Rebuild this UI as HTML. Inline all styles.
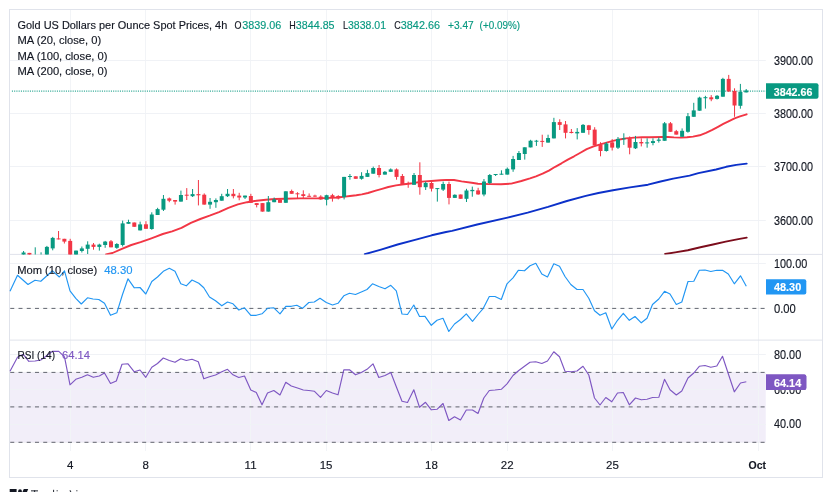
<!DOCTYPE html>
<html><head><meta charset="utf-8"><title>Gold Spot 4h</title>
<style>html,body{margin:0;padding:0;background:#fff;overflow:hidden}body{width:832px;height:492px;position:relative;font-family:"Liberation Sans",sans-serif}</style></head>
<body>
<svg width="832" height="492" viewBox="0 0 832 492" style="position:absolute;left:0;top:0;will-change:transform">
<rect width="832" height="492" fill="#fff"/>
<defs><clipPath id="mp"><rect x="10" y="10" width="756" height="244.4"/></clipPath><clipPath id="all"><rect x="10" y="10" width="756" height="440"/></clipPath></defs>
<rect x="10" y="372.5" width="755.8" height="69.9" fill="#7e57c2" fill-opacity="0.1"/>
<rect x="70" y="10" width="1" height="441" fill="#f2f4f7"/>
<rect x="145" y="10" width="1" height="441" fill="#f2f4f7"/>
<rect x="250" y="10" width="1" height="441" fill="#f2f4f7"/>
<rect x="326" y="10" width="1" height="441" fill="#f2f4f7"/>
<rect x="431" y="10" width="1" height="441" fill="#f2f4f7"/>
<rect x="507" y="10" width="1" height="441" fill="#f2f4f7"/>
<rect x="612" y="10" width="1" height="441" fill="#f2f4f7"/>
<rect x="758" y="10" width="1" height="441" fill="#f2f4f7"/>
<rect x="10" y="60" width="755.8" height="1" fill="#f0f2f6"/>
<rect x="10" y="113" width="755.8" height="1" fill="#f0f2f6"/>
<rect x="10" y="166" width="755.8" height="1" fill="#f0f2f6"/>
<rect x="10" y="220" width="755.8" height="1" fill="#f0f2f6"/>
<rect x="10" y="263" width="755.8" height="1" fill="#f0f2f6"/>
<rect x="10" y="354" width="755.8" height="1" fill="#f0f2f6"/>
<rect x="10" y="389" width="755.8" height="1" fill="#f0f2f6"/>
<rect x="10" y="424" width="755.8" height="1" fill="#f0f2f6"/>
<rect x="10" y="253.9" width="812" height="1" fill="#e0e3eb"/>
<rect x="10" y="339.6" width="812" height="1" fill="#e0e3eb"/>
<rect x="9.5" y="9.5" width="813" height="468" fill="none" stroke="#e0e3eb" stroke-width="1"/>
<line x1="10.25" x2="765" y1="308.4" y2="308.4" stroke="#787b86" stroke-width="1" stroke-opacity="0.07"/>
<line x1="10.25" x2="765" y1="308.4" y2="308.4" stroke="#62656f" stroke-width="1" stroke-dasharray="4 4.2456"/>
<line x1="10.25" x2="765" y1="372.4" y2="372.4" stroke="#787b86" stroke-width="1" stroke-opacity="0.07"/>
<line x1="10.25" x2="765" y1="372.4" y2="372.4" stroke="#62656f" stroke-width="1" stroke-dasharray="4 4.2456"/>
<line x1="10.25" x2="765" y1="406.9" y2="406.9" stroke="#787b86" stroke-width="1" stroke-opacity="0.07"/>
<line x1="10.25" x2="765" y1="406.9" y2="406.9" stroke="#62656f" stroke-width="1" stroke-dasharray="4 4.2456"/>
<line x1="10.25" x2="765" y1="442.3" y2="442.3" stroke="#787b86" stroke-width="1" stroke-opacity="0.07"/>
<line x1="10.25" x2="765" y1="442.3" y2="442.3" stroke="#62656f" stroke-width="1" stroke-dasharray="4 4.2456"/>
<line x1="11.9" x2="765.8" y1="91.1" y2="91.1" stroke="#089981" stroke-width="1.2" stroke-dasharray="1.05 1.2" stroke-opacity="0.85"/>
<g clip-path="url(#mp)">
<polyline points="106.0,254.4 112.5,253.0 121.9,248.8 131.3,245.0 140.6,242.2 150.0,238.8 156.0,236.6 162.8,234.0 172.1,231.3 181.5,227.9 190.9,222.8 200.3,219.0 209.6,215.7 219.0,212.1 228.4,207.8 237.8,204.4 247.1,202.2 256.5,200.7 265.9,199.8 275.3,199.0 284.6,198.8 300.0,198.4 318.8,198.4 337.5,197.5 345.0,196.6 350.0,196.0 356.3,195.3 361.8,194.4 368.0,193.0 375.7,190.6 382.0,188.8 388.3,187.0 396.0,185.4 404.0,184.2 412.5,183.2 421.9,181.6 431.3,181.0 440.6,180.2 446.4,179.9 454.0,180.0 461.6,181.4 471.7,182.8 478.0,183.7 489.8,184.1 501.0,184.3 511.3,183.6 521.4,181.0 530.0,178.4 536.0,176.3 542.6,173.7 548.9,170.6 555.2,166.8 561.5,163.3 567.8,159.6 574.1,156.3 580.4,152.7 586.7,149.1 593.0,146.6 599.4,144.7 605.7,142.8 612.0,141.2 618.3,139.7 625.8,138.4 634.0,137.6 642.0,137.3 649.5,137.3 662.6,137.0 668.0,137.0 674.0,137.4 680.7,137.6 687.0,137.3 693.0,136.6 699.7,135.3 706.0,132.8 712.3,129.8 718.0,126.8 723.3,123.9 728.0,121.6 734.6,118.3 740.0,116.4 746.6,114.3" fill="none" stroke="#f23645" stroke-width="1.9" stroke-linejoin="round" stroke-linecap="round"/>
<polyline points="364.8,254.2 381.0,249.6 397.6,244.5 415.0,239.8 431.7,235.3 446.0,232.0 452.0,230.9 477.2,224.5 507.5,217.6 527.7,212.6 548.0,206.9 566.9,201.0 585.8,195.9 598.4,193.0 613.0,190.3 630.0,187.4 648.0,184.7 660.6,181.5 673.2,178.6 689.6,175.6 698.4,173.1 716.1,169.5 726.2,166.8 736.3,164.9 746.7,163.6" fill="none" stroke="#0c31c9" stroke-width="1.9" stroke-linejoin="round" stroke-linecap="round"/>
<polyline points="665.1,254.0 675.2,252.4 687.8,250.2 700.4,247.3 713.0,244.5 725.7,241.6 738.3,239.1 746.7,237.6" fill="none" stroke="#7c0d1c" stroke-width="1.9" stroke-linejoin="round" stroke-linecap="round"/>
<rect x="745.70" y="89.0" width="1" height="3.4" fill="#089981"/>
<rect x="744.20" y="90.5" width="4" height="1.9" fill="#089981"/>
<rect x="739.87" y="83.9" width="1" height="24.8" fill="#089981"/>
<rect x="738.37" y="92.0" width="4" height="13.8" fill="#089981"/>
<rect x="734.04" y="88.3" width="1" height="28.5" fill="#f23645"/>
<rect x="732.54" y="90.9" width="4" height="14.6" fill="#f23645"/>
<rect x="728.22" y="74.9" width="1" height="17.1" fill="#f23645"/>
<rect x="726.72" y="78.9" width="4" height="12.5" fill="#f23645"/>
<rect x="722.39" y="77.8" width="1" height="18.9" fill="#089981"/>
<rect x="720.89" y="78.9" width="4" height="17.8" fill="#089981"/>
<rect x="716.56" y="95.0" width="1" height="4.5" fill="#089981"/>
<rect x="715.06" y="95.8" width="4" height="3.1" fill="#089981"/>
<rect x="710.73" y="95.1" width="1" height="6.1" fill="#f23645"/>
<rect x="709.23" y="97.3" width="4" height="2.0" fill="#f23645"/>
<rect x="704.91" y="95.8" width="1" height="12.8" fill="#089981"/>
<rect x="703.41" y="97.2" width="4" height="1.0" fill="#089981"/>
<rect x="699.08" y="96.7" width="1" height="14.0" fill="#089981"/>
<rect x="697.58" y="97.6" width="4" height="13.1" fill="#089981"/>
<rect x="693.25" y="102.8" width="1" height="14.0" fill="#089981"/>
<rect x="691.75" y="110.4" width="4" height="6.4" fill="#089981"/>
<rect x="687.42" y="113.0" width="1" height="19.7" fill="#089981"/>
<rect x="685.92" y="116.2" width="4" height="15.6" fill="#089981"/>
<rect x="681.60" y="128.4" width="1" height="8.4" fill="#089981"/>
<rect x="680.10" y="130.8" width="4" height="6.0" fill="#089981"/>
<rect x="675.77" y="129.9" width="1" height="4.7" fill="#f23645"/>
<rect x="674.27" y="131.2" width="4" height="3.4" fill="#f23645"/>
<rect x="669.94" y="122.0" width="1" height="9.8" fill="#f23645"/>
<rect x="668.44" y="123.3" width="4" height="8.5" fill="#f23645"/>
<rect x="664.11" y="122.0" width="1" height="18.8" fill="#089981"/>
<rect x="662.61" y="123.3" width="4" height="17.5" fill="#089981"/>
<rect x="658.29" y="137.4" width="1" height="5.2" fill="#089981"/>
<rect x="656.79" y="139.6" width="4" height="1.2" fill="#089981"/>
<rect x="652.46" y="138.3" width="1" height="7.0" fill="#089981"/>
<rect x="650.96" y="141.1" width="4" height="1.9" fill="#089981"/>
<rect x="646.63" y="138.3" width="1" height="9.4" fill="#089981"/>
<rect x="645.13" y="142.4" width="4" height="1.0" fill="#089981"/>
<rect x="640.80" y="138.3" width="1" height="8.1" fill="#f23645"/>
<rect x="639.30" y="142.0" width="4" height="1.4" fill="#f23645"/>
<rect x="634.98" y="135.9" width="1" height="13.1" fill="#089981"/>
<rect x="633.48" y="142.0" width="4" height="6.3" fill="#089981"/>
<rect x="629.15" y="136.4" width="1" height="17.9" fill="#f23645"/>
<rect x="627.65" y="138.3" width="4" height="9.4" fill="#f23645"/>
<rect x="623.32" y="133.3" width="1" height="11.6" fill="#089981"/>
<rect x="621.82" y="138.3" width="4" height="1.0" fill="#089981"/>
<rect x="617.49" y="137.0" width="1" height="12.0" fill="#089981"/>
<rect x="615.99" y="138.9" width="4" height="8.8" fill="#089981"/>
<rect x="611.67" y="139.1" width="1" height="11.4" fill="#f23645"/>
<rect x="610.17" y="142.4" width="4" height="5.2" fill="#f23645"/>
<rect x="605.84" y="142.2" width="1" height="9.4" fill="#089981"/>
<rect x="604.34" y="143.5" width="4" height="7.5" fill="#089981"/>
<rect x="600.01" y="142.2" width="1" height="14.1" fill="#f23645"/>
<rect x="598.51" y="145.0" width="4" height="6.0" fill="#f23645"/>
<rect x="594.18" y="127.2" width="1" height="18.2" fill="#f23645"/>
<rect x="592.68" y="129.6" width="4" height="15.8" fill="#f23645"/>
<rect x="588.35" y="124.9" width="1" height="9.8" fill="#f23645"/>
<rect x="586.85" y="125.3" width="4" height="4.7" fill="#f23645"/>
<rect x="582.53" y="124.0" width="1" height="8.8" fill="#089981"/>
<rect x="581.03" y="124.9" width="4" height="7.9" fill="#089981"/>
<rect x="576.70" y="128.1" width="1" height="11.3" fill="#089981"/>
<rect x="575.20" y="131.9" width="4" height="1.5" fill="#089981"/>
<rect x="570.87" y="129.0" width="1" height="4.4" fill="#f23645"/>
<rect x="569.37" y="131.9" width="4" height="1.1" fill="#f23645"/>
<rect x="565.04" y="121.0" width="1" height="17.4" fill="#f23645"/>
<rect x="563.54" y="124.4" width="4" height="8.4" fill="#f23645"/>
<rect x="559.22" y="119.3" width="1" height="10.7" fill="#f23645"/>
<rect x="557.72" y="122.1" width="4" height="2.8" fill="#f23645"/>
<rect x="553.39" y="117.8" width="1" height="20.6" fill="#089981"/>
<rect x="551.89" y="122.1" width="4" height="16.3" fill="#089981"/>
<rect x="547.56" y="134.7" width="1" height="7.9" fill="#089981"/>
<rect x="546.06" y="138.0" width="4" height="4.6" fill="#089981"/>
<rect x="541.73" y="134.7" width="1" height="12.2" fill="#f23645"/>
<rect x="540.23" y="140.9" width="4" height="1.0" fill="#f23645"/>
<rect x="535.91" y="139.9" width="1" height="6.0" fill="#089981"/>
<rect x="534.41" y="140.7" width="4" height="1.0" fill="#089981"/>
<rect x="530.08" y="139.8" width="1" height="7.6" fill="#089981"/>
<rect x="528.58" y="140.7" width="4" height="6.7" fill="#089981"/>
<rect x="524.25" y="147.3" width="1" height="12.3" fill="#089981"/>
<rect x="522.75" y="147.3" width="4" height="6.7" fill="#089981"/>
<rect x="518.42" y="151.0" width="1" height="9.0" fill="#089981"/>
<rect x="516.92" y="153.0" width="4" height="7.0" fill="#089981"/>
<rect x="512.60" y="155.9" width="1" height="15.9" fill="#089981"/>
<rect x="511.10" y="159.0" width="4" height="10.4" fill="#089981"/>
<rect x="506.77" y="167.5" width="1" height="7.1" fill="#089981"/>
<rect x="505.27" y="168.8" width="4" height="5.8" fill="#089981"/>
<rect x="500.94" y="170.3" width="1" height="4.3" fill="#089981"/>
<rect x="499.44" y="173.7" width="4" height="1.0" fill="#089981"/>
<rect x="495.11" y="174.0" width="1" height="2.0" fill="#089981"/>
<rect x="493.61" y="174.0" width="4" height="1.0" fill="#089981"/>
<rect x="489.29" y="174.0" width="1" height="10.0" fill="#089981"/>
<rect x="487.79" y="175.0" width="4" height="8.0" fill="#089981"/>
<rect x="483.46" y="179.0" width="1" height="17.3" fill="#089981"/>
<rect x="481.96" y="181.5" width="4" height="13.0" fill="#089981"/>
<rect x="477.63" y="187.8" width="1" height="7.0" fill="#f23645"/>
<rect x="476.13" y="190.4" width="4" height="4.0" fill="#f23645"/>
<rect x="471.80" y="186.6" width="1" height="10.1" fill="#089981"/>
<rect x="470.30" y="189.9" width="4" height="1.3" fill="#089981"/>
<rect x="465.98" y="188.8" width="1" height="13.2" fill="#089981"/>
<rect x="464.48" y="190.5" width="4" height="8.3" fill="#089981"/>
<rect x="460.15" y="194.5" width="1" height="4.3" fill="#f23645"/>
<rect x="458.65" y="194.5" width="4" height="4.3" fill="#f23645"/>
<rect x="454.32" y="194.3" width="1" height="3.6" fill="#089981"/>
<rect x="452.82" y="194.8" width="4" height="3.1" fill="#089981"/>
<rect x="448.49" y="181.6" width="1" height="22.8" fill="#f23645"/>
<rect x="446.99" y="184.0" width="4" height="13.9" fill="#f23645"/>
<rect x="442.66" y="181.6" width="1" height="9.4" fill="#089981"/>
<rect x="441.16" y="184.0" width="4" height="5.6" fill="#089981"/>
<rect x="436.84" y="188.1" width="1" height="13.5" fill="#089981"/>
<rect x="435.34" y="188.1" width="4" height="1.0" fill="#089981"/>
<rect x="431.01" y="181.6" width="1" height="9.9" fill="#f23645"/>
<rect x="429.51" y="183.0" width="4" height="5.7" fill="#f23645"/>
<rect x="425.18" y="181.6" width="1" height="8.4" fill="#089981"/>
<rect x="423.68" y="183.0" width="4" height="4.2" fill="#089981"/>
<rect x="419.35" y="162.3" width="1" height="32.4" fill="#f23645"/>
<rect x="417.85" y="175.0" width="4" height="12.2" fill="#f23645"/>
<rect x="413.53" y="173.0" width="1" height="11.8" fill="#089981"/>
<rect x="412.03" y="175.0" width="4" height="9.8" fill="#089981"/>
<rect x="407.70" y="181.6" width="1" height="6.2" fill="#f23645"/>
<rect x="406.20" y="183.0" width="4" height="1.0" fill="#f23645"/>
<rect x="401.87" y="174.0" width="1" height="10.4" fill="#f23645"/>
<rect x="400.37" y="176.0" width="4" height="8.4" fill="#f23645"/>
<rect x="396.04" y="168.4" width="1" height="11.3" fill="#f23645"/>
<rect x="394.54" y="169.4" width="4" height="7.5" fill="#f23645"/>
<rect x="390.22" y="168.4" width="1" height="3.4" fill="#089981"/>
<rect x="388.72" y="169.4" width="4" height="2.4" fill="#089981"/>
<rect x="384.39" y="171.0" width="1" height="3.6" fill="#089981"/>
<rect x="382.89" y="171.8" width="4" height="2.8" fill="#089981"/>
<rect x="378.56" y="165.0" width="1" height="12.4" fill="#f23645"/>
<rect x="377.06" y="168.0" width="4" height="7.0" fill="#f23645"/>
<rect x="372.73" y="166.6" width="1" height="7.1" fill="#089981"/>
<rect x="371.23" y="168.0" width="4" height="5.7" fill="#089981"/>
<rect x="366.91" y="169.8" width="1" height="7.1" fill="#089981"/>
<rect x="365.41" y="173.1" width="4" height="3.8" fill="#089981"/>
<rect x="361.08" y="172.2" width="1" height="7.5" fill="#089981"/>
<rect x="359.58" y="175.9" width="4" height="2.9" fill="#089981"/>
<rect x="355.25" y="176.3" width="1" height="2.5" fill="#f23645"/>
<rect x="353.75" y="176.3" width="4" height="2.5" fill="#f23645"/>
<rect x="349.42" y="174.0" width="1" height="5.7" fill="#089981"/>
<rect x="347.92" y="176.0" width="4" height="1.0" fill="#089981"/>
<rect x="343.60" y="176.9" width="1" height="22.5" fill="#089981"/>
<rect x="342.10" y="176.9" width="4" height="20.2" fill="#089981"/>
<rect x="337.77" y="195.2" width="1" height="4.2" fill="#f23645"/>
<rect x="336.27" y="196.0" width="4" height="2.4" fill="#f23645"/>
<rect x="331.94" y="193.8" width="1" height="7.8" fill="#f23645"/>
<rect x="330.44" y="195.2" width="4" height="2.7" fill="#f23645"/>
<rect x="326.11" y="194.7" width="1" height="10.7" fill="#089981"/>
<rect x="324.61" y="195.2" width="4" height="4.6" fill="#089981"/>
<rect x="320.29" y="195.2" width="1" height="4.6" fill="#f23645"/>
<rect x="318.79" y="196.6" width="4" height="2.8" fill="#f23645"/>
<rect x="314.46" y="194.7" width="1" height="2.3" fill="#f23645"/>
<rect x="312.96" y="195.6" width="4" height="1.0" fill="#f23645"/>
<rect x="308.63" y="193.4" width="1" height="3.2" fill="#f23645"/>
<rect x="307.13" y="195.8" width="4" height="1.0" fill="#f23645"/>
<rect x="302.80" y="190.3" width="1" height="8.3" fill="#f23645"/>
<rect x="301.30" y="194.2" width="4" height="1.8" fill="#f23645"/>
<rect x="296.97" y="192.2" width="1" height="6.4" fill="#f23645"/>
<rect x="295.47" y="193.3" width="4" height="1.0" fill="#f23645"/>
<rect x="291.15" y="189.6" width="1" height="4.2" fill="#f23645"/>
<rect x="289.65" y="191.0" width="4" height="2.8" fill="#f23645"/>
<rect x="285.32" y="191.3" width="1" height="11.5" fill="#089981"/>
<rect x="283.82" y="191.3" width="4" height="11.5" fill="#089981"/>
<rect x="279.49" y="198.4" width="1" height="4.4" fill="#f23645"/>
<rect x="277.99" y="199.8" width="4" height="3.0" fill="#f23645"/>
<rect x="273.66" y="197.5" width="1" height="4.7" fill="#089981"/>
<rect x="272.16" y="199.4" width="4" height="2.8" fill="#089981"/>
<rect x="267.84" y="196.0" width="1" height="15.6" fill="#089981"/>
<rect x="266.34" y="202.2" width="4" height="9.4" fill="#089981"/>
<rect x="262.01" y="203.1" width="1" height="8.5" fill="#f23645"/>
<rect x="260.51" y="203.1" width="4" height="8.5" fill="#f23645"/>
<rect x="256.18" y="203.1" width="1" height="4.3" fill="#f23645"/>
<rect x="254.68" y="203.1" width="4" height="1.9" fill="#f23645"/>
<rect x="250.35" y="193.8" width="1" height="9.0" fill="#f23645"/>
<rect x="248.85" y="196.0" width="4" height="6.8" fill="#f23645"/>
<rect x="244.53" y="195.6" width="1" height="3.4" fill="#089981"/>
<rect x="243.03" y="195.6" width="4" height="1.9" fill="#089981"/>
<rect x="238.70" y="192.8" width="1" height="7.5" fill="#f23645"/>
<rect x="237.20" y="195.6" width="4" height="1.9" fill="#f23645"/>
<rect x="232.87" y="189.0" width="1" height="9.4" fill="#f23645"/>
<rect x="231.37" y="193.8" width="4" height="2.4" fill="#f23645"/>
<rect x="227.04" y="189.0" width="1" height="8.0" fill="#089981"/>
<rect x="225.54" y="193.8" width="4" height="2.4" fill="#089981"/>
<rect x="221.22" y="193.8" width="1" height="6.9" fill="#089981"/>
<rect x="219.72" y="196.2" width="4" height="4.5" fill="#089981"/>
<rect x="215.39" y="198.4" width="1" height="9.4" fill="#089981"/>
<rect x="213.89" y="200.0" width="4" height="2.2" fill="#089981"/>
<rect x="209.56" y="198.0" width="1" height="10.8" fill="#089981"/>
<rect x="208.06" y="201.8" width="4" height="2.8" fill="#089981"/>
<rect x="203.73" y="193.4" width="1" height="11.2" fill="#f23645"/>
<rect x="202.23" y="194.7" width="4" height="9.9" fill="#f23645"/>
<rect x="197.91" y="180.0" width="1" height="25.4" fill="#f23645"/>
<rect x="196.41" y="194.1" width="4" height="1.2" fill="#f23645"/>
<rect x="192.08" y="189.0" width="1" height="8.0" fill="#089981"/>
<rect x="190.58" y="194.1" width="4" height="2.1" fill="#089981"/>
<rect x="186.25" y="188.1" width="1" height="11.9" fill="#f23645"/>
<rect x="184.75" y="194.7" width="4" height="1.0" fill="#f23645"/>
<rect x="180.42" y="190.6" width="1" height="11.0" fill="#089981"/>
<rect x="178.92" y="195.0" width="4" height="6.6" fill="#089981"/>
<rect x="174.60" y="200.0" width="1" height="4.6" fill="#f23645"/>
<rect x="173.10" y="200.0" width="4" height="1.6" fill="#f23645"/>
<rect x="168.77" y="197.5" width="1" height="4.7" fill="#f23645"/>
<rect x="167.27" y="198.4" width="4" height="2.3" fill="#f23645"/>
<rect x="162.94" y="195.0" width="1" height="16.0" fill="#089981"/>
<rect x="161.44" y="198.8" width="4" height="10.9" fill="#089981"/>
<rect x="157.11" y="207.8" width="1" height="7.2" fill="#089981"/>
<rect x="155.61" y="209.1" width="4" height="5.9" fill="#089981"/>
<rect x="151.28" y="212.3" width="1" height="17.5" fill="#089981"/>
<rect x="149.78" y="214.5" width="4" height="14.5" fill="#089981"/>
<rect x="145.46" y="221.2" width="1" height="7.6" fill="#f23645"/>
<rect x="143.96" y="224.3" width="4" height="4.5" fill="#f23645"/>
<rect x="139.63" y="221.6" width="1" height="8.8" fill="#089981"/>
<rect x="138.13" y="224.4" width="4" height="6.0" fill="#089981"/>
<rect x="133.80" y="222.5" width="1" height="4.3" fill="#f23645"/>
<rect x="132.30" y="222.5" width="4" height="4.3" fill="#f23645"/>
<rect x="127.97" y="219.7" width="1" height="4.1" fill="#089981"/>
<rect x="126.47" y="222.0" width="4" height="1.8" fill="#089981"/>
<rect x="122.15" y="220.6" width="1" height="25.9" fill="#089981"/>
<rect x="120.65" y="223.4" width="4" height="21.6" fill="#089981"/>
<rect x="116.32" y="243.1" width="1" height="5.7" fill="#089981"/>
<rect x="114.82" y="244.0" width="4" height="3.8" fill="#089981"/>
<rect x="110.49" y="240.0" width="1" height="7.3" fill="#f23645"/>
<rect x="108.99" y="241.3" width="4" height="6.0" fill="#f23645"/>
<rect x="104.66" y="240.9" width="1" height="6.9" fill="#089981"/>
<rect x="103.16" y="241.6" width="4" height="3.4" fill="#089981"/>
<rect x="98.84" y="243.7" width="1" height="6.9" fill="#089981"/>
<rect x="97.34" y="244.6" width="4" height="2.3" fill="#089981"/>
<rect x="93.01" y="243.0" width="1" height="6.7" fill="#f23645"/>
<rect x="91.51" y="244.6" width="4" height="2.3" fill="#f23645"/>
<rect x="87.18" y="241.3" width="1" height="12.7" fill="#089981"/>
<rect x="85.68" y="244.6" width="4" height="4.2" fill="#089981"/>
<rect x="81.35" y="246.5" width="1" height="6.0" fill="#089981"/>
<rect x="79.85" y="248.4" width="4" height="2.6" fill="#089981"/>
<rect x="75.53" y="250.6" width="1" height="5.4" fill="#089981"/>
<rect x="74.03" y="250.6" width="4" height="5.4" fill="#089981"/>
<rect x="69.70" y="238.8" width="1" height="17.2" fill="#f23645"/>
<rect x="68.20" y="240.9" width="4" height="15.1" fill="#f23645"/>
<rect x="63.87" y="238.8" width="1" height="4.7" fill="#f23645"/>
<rect x="62.37" y="238.8" width="4" height="2.8" fill="#f23645"/>
<rect x="58.04" y="231.0" width="1" height="8.4" fill="#f23645"/>
<rect x="56.54" y="238.4" width="4" height="1.0" fill="#f23645"/>
<rect x="52.22" y="236.9" width="1" height="13.4" fill="#089981"/>
<rect x="50.72" y="237.9" width="4" height="10.5" fill="#089981"/>
<rect x="46.39" y="245.9" width="1" height="10.1" fill="#089981"/>
<rect x="44.89" y="246.9" width="4" height="9.1" fill="#089981"/>
<rect x="40.56" y="252.3" width="1" height="3.7" fill="#089981"/>
<rect x="39.06" y="255.5" width="4" height="1.0" fill="#089981"/>
<rect x="34.73" y="247.3" width="1" height="8.7" fill="#089981"/>
<rect x="33.23" y="255.5" width="4" height="1.0" fill="#089981"/>
<rect x="28.91" y="252.9" width="1" height="3.1" fill="#f23645"/>
<rect x="27.41" y="252.9" width="4" height="3.1" fill="#f23645"/>
<rect x="23.08" y="251.0" width="1" height="5.0" fill="#089981"/>
<rect x="21.58" y="252.5" width="4" height="3.5" fill="#089981"/>
</g>
<polyline points="10.0,291.3 17.5,275.3 28.0,284.5 35.0,280.3 40.8,281.3 52.5,270.8 59.3,277.0 64.5,270.8 70.0,290.8 75.8,298.3 81.3,304.0 87.5,297.8 93.0,299.0 98.8,299.5 104.5,303.3 110.5,315.3 116.8,312.8 122.5,294.5 128.0,278.8 134.3,287.8 140.0,287.5 145.8,294.0 151.8,281.5 157.5,277.0 163.3,271.3 169.3,268.3 175.0,271.3 180.8,283.8 186.3,285.8 192.0,280.0 198.8,283.3 203.8,287.8 209.5,297.0 215.5,300.8 221.8,305.8 227.5,302.0 233.0,303.8 238.8,310.0 244.5,307.8 250.8,315.3 256.3,315.3 262.0,313.8 267.5,308.3 273.8,307.8 280.0,313.8 285.8,306.3 291.3,306.3 296.8,305.3 302.5,308.3 308.8,302.5 314.3,302.0 320.0,298.3 326.3,302.5 332.5,305.0 338.0,303.3 343.8,295.8 349.5,293.3 355.5,294.5 361.3,292.0 367.0,289.5 372.5,283.8 378.8,286.5 385.0,288.8 390.8,285.3 396.3,290.8 402.0,314.0 407.5,314.5 413.8,305.0 419.5,316.5 425.0,316.3 431.3,325.3 437.0,320.3 443.0,318.3 448.8,331.5 454.5,324.0 460.5,319.5 466.3,313.8 472.5,321.3 478.0,314.5 483.3,308.3 489.3,296.5 495.0,296.5 501.3,299.5 507.0,283.8 513.0,277.8 518.3,270.3 524.5,270.8 530.0,265.8 535.8,263.3 541.8,274.0 547.5,277.0 553.8,263.8 559.5,266.3 565.0,276.5 570.8,284.5 577.0,289.5 583.0,289.5 588.8,298.3 594.5,310.8 600.0,315.3 605.8,312.8 611.8,329.0 617.5,320.3 623.3,313.3 629.3,320.3 635.0,316.5 641.3,322.8 647.0,318.3 652.5,304.5 658.8,299.0 664.5,291.3 670.0,294.0 676.3,304.5 681.8,302.0 688.0,281.5 693.8,281.3 699.3,270.3 705.0,270.0 710.8,271.5 716.8,270.3 722.5,270.3 728.3,274.0 734.3,283.8 740.5,275.8 746.3,286.3" fill="none" stroke="#2196f3" stroke-width="1.15" stroke-linejoin="round"/>
<polyline points="10.0,371.3 17.5,357.3 23.3,354.3 28.8,361.3 35.0,361.0 40.8,360.0 46.3,356.0 52.5,351.3 58.8,351.3 64.5,356.8 70.0,384.8 75.8,379.3 81.8,377.3 87.5,374.8 93.3,377.3 99.3,376.0 104.5,373.0 110.5,383.5 116.3,381.0 122.0,364.3 128.0,363.8 134.3,371.8 140.0,370.0 145.8,377.3 151.8,367.3 157.5,363.5 163.3,358.0 169.3,360.5 175.0,362.3 180.8,358.8 186.3,360.5 192.0,359.3 198.3,361.8 203.8,378.8 209.5,376.8 215.5,375.0 221.8,371.8 227.5,369.3 233.0,374.8 238.8,377.5 244.5,376.0 250.8,390.0 256.3,392.5 262.0,404.8 267.5,393.0 273.8,390.5 280.0,395.0 285.8,382.3 291.3,386.0 297.5,388.0 303.3,390.0 308.8,390.5 314.5,391.3 320.5,397.3 326.3,390.5 332.5,393.0 338.0,394.8 343.8,369.8 349.5,369.8 355.5,374.8 361.3,372.5 367.0,369.3 373.0,363.8 378.8,377.5 385.0,375.5 390.8,372.5 396.3,386.8 402.0,401.3 407.5,402.5 413.8,389.8 419.5,407.3 425.5,402.3 431.3,409.8 437.0,409.3 443.0,403.5 448.8,420.5 454.5,416.8 460.5,420.0 466.3,410.0 472.5,410.0 478.0,413.5 483.8,398.0 489.3,390.5 495.0,390.0 501.3,389.3 507.0,383.8 513.0,375.5 518.8,370.5 524.5,366.3 530.0,362.3 535.8,361.8 541.8,363.5 547.5,361.0 553.8,351.8 559.5,356.8 565.0,371.3 571.3,371.8 577.0,371.0 583.0,366.3 588.8,375.0 594.5,398.0 600.0,405.0 605.8,397.5 611.8,401.8 617.5,393.0 623.3,392.5 629.3,404.8 635.5,398.0 641.3,399.8 647.0,399.3 652.5,397.5 658.8,397.3 664.5,379.3 670.0,389.8 676.3,395.0 681.8,391.0 688.0,378.0 693.8,373.0 699.3,366.3 705.0,365.5 710.8,367.3 716.8,366.0 722.5,356.3 728.3,373.8 734.3,391.8 740.5,383.0 746.3,381.8" fill="none" stroke="#7e57c2" stroke-width="1.15" stroke-linejoin="round"/>
<path d="M766 83.3h50.5a2 2 0 0 1 2 2v11.5a2 2 0 0 1-2 2H766z" fill="#089981"/>
<path d="M766 279.2h38.3a2 2 0 0 1 2 2v11.3a2 2 0 0 1-2 2H766z" fill="#2196f3"/>
<path d="M766 374.6h38.3a2 2 0 0 1 2 2v11.3a2 2 0 0 1-2 2H766z" fill="#7e57c2"/>
<text x="774" y="64.6" font-family="Liberation Sans, sans-serif" font-size="12" font-weight="normal" fill="#131722" stroke="#131722" stroke-width="0.15" text-anchor="start" textLength="39" lengthAdjust="spacingAndGlyphs">3900.00</text>
<text x="774" y="117.6" font-family="Liberation Sans, sans-serif" font-size="12" font-weight="normal" fill="#131722" stroke="#131722" stroke-width="0.15" text-anchor="start" textLength="39" lengthAdjust="spacingAndGlyphs">3800.00</text>
<text x="774" y="170.60000000000002" font-family="Liberation Sans, sans-serif" font-size="12" font-weight="normal" fill="#131722" stroke="#131722" stroke-width="0.15" text-anchor="start" textLength="39" lengthAdjust="spacingAndGlyphs">3700.00</text>
<text x="774" y="224.5" font-family="Liberation Sans, sans-serif" font-size="12" font-weight="normal" fill="#131722" stroke="#131722" stroke-width="0.15" text-anchor="start" textLength="39" lengthAdjust="spacingAndGlyphs">3600.00</text>
<text x="774" y="267.7" font-family="Liberation Sans, sans-serif" font-size="12" font-weight="normal" fill="#131722" stroke="#131722" stroke-width="0.15" text-anchor="start" textLength="33.2" lengthAdjust="spacingAndGlyphs">100.00</text>
<text x="774" y="312.6" font-family="Liberation Sans, sans-serif" font-size="12" font-weight="normal" fill="#131722" stroke="#131722" stroke-width="0.15" text-anchor="start" textLength="21.8" lengthAdjust="spacingAndGlyphs">0.00</text>
<text x="774" y="358.6" font-family="Liberation Sans, sans-serif" font-size="12" font-weight="normal" fill="#131722" stroke="#131722" stroke-width="0.15" text-anchor="start" textLength="27.2" lengthAdjust="spacingAndGlyphs">80.00</text>
<text x="774" y="393.7" font-family="Liberation Sans, sans-serif" font-size="12" font-weight="normal" fill="#131722" stroke="#131722" stroke-width="0.15" text-anchor="start" textLength="27.2" lengthAdjust="spacingAndGlyphs">60.00</text>
<text x="774" y="428.0" font-family="Liberation Sans, sans-serif" font-size="12" font-weight="normal" fill="#131722" stroke="#131722" stroke-width="0.15" text-anchor="start" textLength="27.2" lengthAdjust="spacingAndGlyphs">40.00</text>
<path d="M766 374.6h38.3a2 2 0 0 1 2 2v11.3a2 2 0 0 1-2 2H766z" fill="#7e57c2"/>
<text x="773.8" y="95.5" font-family="Liberation Sans, sans-serif" font-size="11.3" font-weight="bold" fill="#fff" stroke="#fff" stroke-width="0.15" text-anchor="start" textLength="38.6" lengthAdjust="spacingAndGlyphs">3842.66</text>
<text x="774" y="291.3" font-family="Liberation Sans, sans-serif" font-size="11.3" font-weight="bold" fill="#fff" stroke="#fff" stroke-width="0.15" text-anchor="start" textLength="27.2" lengthAdjust="spacingAndGlyphs">48.30</text>
<text x="774" y="386.7" font-family="Liberation Sans, sans-serif" font-size="11.3" font-weight="bold" fill="#fff" stroke="#fff" stroke-width="0.15" text-anchor="start" textLength="27.2" lengthAdjust="spacingAndGlyphs">64.14</text>
<text x="70.2" y="468.5" font-family="Liberation Sans, sans-serif" font-size="11.5" font-weight="normal" fill="#131722" stroke="#131722" stroke-width="0.15" text-anchor="middle">4</text>
<text x="145.7" y="468.5" font-family="Liberation Sans, sans-serif" font-size="11.5" font-weight="normal" fill="#131722" stroke="#131722" stroke-width="0.15" text-anchor="middle">8</text>
<text x="250.6" y="468.5" font-family="Liberation Sans, sans-serif" font-size="11.5" font-weight="normal" fill="#131722" stroke="#131722" stroke-width="0.15" text-anchor="middle">11</text>
<text x="326.1" y="468.5" font-family="Liberation Sans, sans-serif" font-size="11.5" font-weight="normal" fill="#131722" stroke="#131722" stroke-width="0.15" text-anchor="middle">15</text>
<text x="431.4" y="468.5" font-family="Liberation Sans, sans-serif" font-size="11.5" font-weight="normal" fill="#131722" stroke="#131722" stroke-width="0.15" text-anchor="middle">18</text>
<text x="507.2" y="468.5" font-family="Liberation Sans, sans-serif" font-size="11.5" font-weight="normal" fill="#131722" stroke="#131722" stroke-width="0.15" text-anchor="middle">22</text>
<text x="612.5" y="468.5" font-family="Liberation Sans, sans-serif" font-size="11.5" font-weight="normal" fill="#131722" stroke="#131722" stroke-width="0.15" text-anchor="middle">25</text>
<text x="757.3" y="468.5" font-family="Liberation Sans, sans-serif" font-size="11.5" font-weight="bold" fill="#131722" stroke="#131722" stroke-width="0.15" text-anchor="middle" textLength="17.5" lengthAdjust="spacingAndGlyphs">Oct</text>
<text x="17.5" y="28.6" font-family="Liberation Sans, sans-serif" font-size="11" font-weight="normal" fill="#131722" stroke="#131722" stroke-width="0.15" text-anchor="start" textLength="209.8" lengthAdjust="spacingAndGlyphs">Gold US Dollars per Ounce Spot Prices, 4h</text>
<text x="234.6" y="28.6" font-family="Liberation Sans, sans-serif" font-size="11" font-weight="normal" fill="#131722" stroke="#131722" stroke-width="0.15" text-anchor="start" textLength="7" lengthAdjust="spacingAndGlyphs">O</text>
<text x="242.3" y="28.6" font-family="Liberation Sans, sans-serif" font-size="11" font-weight="normal" fill="#089981" stroke="#089981" stroke-width="0.15" text-anchor="start" textLength="39" lengthAdjust="spacingAndGlyphs">3839.06</text>
<text x="289.2" y="28.6" font-family="Liberation Sans, sans-serif" font-size="11" font-weight="normal" fill="#131722" stroke="#131722" stroke-width="0.15" text-anchor="start" textLength="6.5" lengthAdjust="spacingAndGlyphs">H</text>
<text x="295.8" y="28.6" font-family="Liberation Sans, sans-serif" font-size="11" font-weight="normal" fill="#089981" stroke="#089981" stroke-width="0.15" text-anchor="start" textLength="38.8" lengthAdjust="spacingAndGlyphs">3844.85</text>
<text x="343" y="28.6" font-family="Liberation Sans, sans-serif" font-size="11" font-weight="normal" fill="#131722" stroke="#131722" stroke-width="0.15" text-anchor="start" textLength="5" lengthAdjust="spacingAndGlyphs">L</text>
<text x="348" y="28.6" font-family="Liberation Sans, sans-serif" font-size="11" font-weight="normal" fill="#089981" stroke="#089981" stroke-width="0.15" text-anchor="start" textLength="38" lengthAdjust="spacingAndGlyphs">3838.01</text>
<text x="394.2" y="28.6" font-family="Liberation Sans, sans-serif" font-size="11" font-weight="normal" fill="#131722" stroke="#131722" stroke-width="0.15" text-anchor="start" textLength="6.5" lengthAdjust="spacingAndGlyphs">C</text>
<text x="400.8" y="28.6" font-family="Liberation Sans, sans-serif" font-size="11" font-weight="normal" fill="#089981" stroke="#089981" stroke-width="0.15" text-anchor="start" textLength="39.2" lengthAdjust="spacingAndGlyphs">3842.66</text>
<text x="448" y="28.6" font-family="Liberation Sans, sans-serif" font-size="11" font-weight="normal" fill="#089981" stroke="#089981" stroke-width="0.15" text-anchor="start" textLength="25.8" lengthAdjust="spacingAndGlyphs">+3.47</text>
<text x="479.6" y="28.6" font-family="Liberation Sans, sans-serif" font-size="11" font-weight="normal" fill="#089981" stroke="#089981" stroke-width="0.15" text-anchor="start" textLength="40.4" lengthAdjust="spacingAndGlyphs">(+0.09%)</text>
<text x="17.5" y="44.2" font-family="Liberation Sans, sans-serif" font-size="11" font-weight="normal" fill="#131722" stroke="#131722" stroke-width="0.15" text-anchor="start" textLength="83.7" lengthAdjust="spacingAndGlyphs">MA (20, close, 0)</text>
<text x="17.5" y="59.8" font-family="Liberation Sans, sans-serif" font-size="11" font-weight="normal" fill="#131722" stroke="#131722" stroke-width="0.15" text-anchor="start" textLength="90" lengthAdjust="spacingAndGlyphs">MA (100, close, 0)</text>
<text x="17.5" y="75.0" font-family="Liberation Sans, sans-serif" font-size="11" font-weight="normal" fill="#131722" stroke="#131722" stroke-width="0.15" text-anchor="start" textLength="90" lengthAdjust="spacingAndGlyphs">MA (200, close, 0)</text>
<text x="17.2" y="274" font-family="Liberation Sans, sans-serif" font-size="11" font-weight="normal" fill="#131722" stroke="#131722" stroke-width="0.15" text-anchor="start" textLength="80" lengthAdjust="spacingAndGlyphs">Mom (10, close)</text>
<text x="104.3" y="274" font-family="Liberation Sans, sans-serif" font-size="11" font-weight="normal" fill="#2196f3" stroke="#2196f3" stroke-width="0.15" text-anchor="start" textLength="28.2" lengthAdjust="spacingAndGlyphs">48.30</text>
<text x="17.5" y="359.3" font-family="Liberation Sans, sans-serif" font-size="11" font-weight="normal" fill="#131722" stroke="#131722" stroke-width="0.15" text-anchor="start" textLength="37.5" lengthAdjust="spacingAndGlyphs">RSI (14)</text>
<text x="62" y="359.3" font-family="Liberation Sans, sans-serif" font-size="11" font-weight="normal" fill="#7e57c2" stroke="#7e57c2" stroke-width="0.15" text-anchor="start" textLength="28" lengthAdjust="spacingAndGlyphs">64.14</text>
<g fill="#131722"><rect x="9.7" y="489" width="6.9" height="3.5"/><circle cx="20" cy="491.2" r="1.9"/><path d="M23.8 489h4.4l-1.4 3.5h-4.6z"/></g>
<g fill="#131722" fill-opacity="0.85"><rect x="31" y="490.3" width="7" height="1.1"/><rect x="34" y="490.3" width="1.1" height="2"/><rect x="53" y="489.8" width="1.1" height="2.5"/><rect x="56.6" y="490.2" width="1.1" height="1.1"/><path d="M69.5 490.3h1.2l0.6 1.7h-1.2z"/><rect x="76.3" y="490.2" width="1.1" height="1.1"/></g>
</svg>
</body></html>
